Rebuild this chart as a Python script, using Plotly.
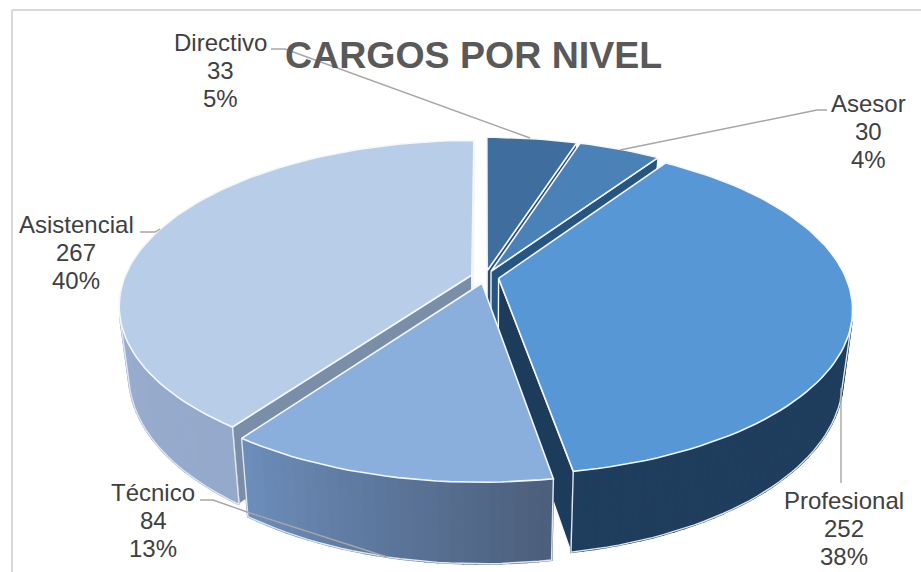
import numpy as np
import plotly.graph_objects as go

# ---- data ----
categories = ["Directivo", "Asesor", "Profesional", "Técnico", "Asistencial"]
values = [33, 30, 252, 84, 267]
percent_labels = [5, 4, 38, 13, 40]
title_text = "CARGOS POR NIVEL"

# ---- styling ----
top_colors = ["#3f6e9e", "#4a82b8", "#5797d6", "#8aafdc", "#b8cde7"]
side_from = ["#2f5478", "#2f5f8a", "#1f3f60", "#4c5f7c", "#94a9cb"]
side_to = ["#2f5478", "#2f5f8a", "#1f3d5c", "#6c8dba", "#a5b8d5"]
radial_colors = ["#2b4e72", "#265582", "#1d3c5c", "#55708f", "#7b8ea8"]
draw_order = [0, 1, 4, 2, 3]
label_pos = [(220, 70), (868, 131), (844, 528), (153, 520), (76, 252)]
LINE_STEP = 28
leaders = [
    [(271, 49), (285, 49), (530, 138)],
    [(827, 110), (817, 110), (620, 150)],
    [(841, 483), (841, 388)],
    [(200, 500), (213, 500), (250, 513), (387, 557)],
    [(140, 232), (155, 232), (160, 229)],
]
CX, CY, A, B, P, H, EXPLODE, TAPER = 485.0, 277.0, 347.0, 160.0, 0.183, 66.0, 0.04, 0.026


def project(X, Y, z=0.0):
    s = 1.0 / (1.0 + P * Y)
    return CX + A * X * s * (1 - TAPER * z), CY - B * Y * s + H * z * s


def hex_mix(c1, c2, t):
    a = [int(c1[i:i + 2], 16) for i in (1, 3, 5)]
    b = [int(c2[i:i + 2], 16) for i in (1, 3, 5)]
    return "rgb(%d,%d,%d)" % tuple(round(u + (v - u) * t) for u, v in zip(a, b))


def area(xs, ys):
    return 0.5 * sum(xs[i] * ys[(i + 1) % len(xs)] - xs[(i + 1) % len(xs)] * ys[i] for i in range(len(xs)))


def poly(fig, xs, ys, fill, line=None, width=1.0):
    fig.add_trace(go.Scatter(
        x=list(xs), y=list(ys), mode="lines", fill="toself", fillcolor=fill,
        line=dict(color=line or fill, width=width), hoverinfo="skip", showlegend=False))


def stroke(fig, xs, ys, color, width=1.0):
    fig.add_trace(go.Scatter(
        x=list(xs), y=list(ys), mode="lines", line=dict(color=color, width=width),
        hoverinfo="skip", showlegend=False))


fig = go.Figure()
total = sum(values)
edges = np.concatenate([[0.0], np.cumsum(values)]) / total * 2 * np.pi

for i in draw_order:
    t0, t1 = edges[i], edges[i + 1]
    mid = 0.5 * (t0 + t1)
    ox, oy = EXPLODE * np.sin(mid), EXPLODE * np.cos(mid)
    n = max(8, int((t1 - t0) / 0.03))
    th = np.linspace(t0, t1, n + 1)
    rx, ry = ox + np.sin(th), oy + np.cos(th)

    ax0, ay0 = project(ox, oy, 0)
    ax1, ay1 = project(ox, oy, 1)

    # radial faces, kept only when they face the viewer
    for k, sign in ((0, 1), (-1, -1)):
        qx0, qy0 = project(rx[k], ry[k], 0)
        qx1, qy1 = project(rx[k], ry[k], 1)
        xs, ys = [ax0, qx0, qx1, ax1], [ay0, qy0, qy1, ay1]
        if sign * area(xs, ys) < 0:
            poly(fig, xs + [ax0], ys + [ay0], radial_colors[i], "#f2f5f9", 1.4)

    # outer wall, built from strips for the gradient
    tx, ty = project(rx, ry, 0)
    bx, by = project(rx, ry, 1)
    vis = []
    for j in range(n):
        xs = [tx[j], tx[j + 1], bx[j + 1], bx[j]]
        ys = [ty[j], ty[j + 1], by[j + 1], by[j]]
        if area(xs, ys) < 0:
            c = hex_mix(side_from[i], side_to[i], j / max(1, n - 1))
            poly(fig, xs + [xs[0]], ys + [ys[0]], c, c, 2.0)
            vis.append(j)
    if vis:
        j0, j1 = vis[0], vis[-1] + 1
        stroke(fig, [tx[j0]] + list(bx[j0:j1 + 1]) + [tx[j1]],
               [ty[j0]] + list(by[j0:j1 + 1]) + [ty[j1]], "#dfe6ef", 1.4)

    # top face
    poly(fig, [ax0] + list(tx) + [ax0], [ay0] + list(ty) + [ay0], top_colors[i], "#f4f7fb", 1.6)

for pts in leaders:
    stroke(fig, [p[0] for p in pts], [p[1] for p in pts], "#a6a6a6", 1.4)

annotations = []
for c, v, p, (x, y) in zip(categories, values, percent_labels, label_pos):
    for row, text in enumerate((c, str(v), f"{p}%")):
        annotations.append(dict(
            x=x, y=y + (row - 1) * LINE_STEP, xref="x", yref="y", text=text, showarrow=False,
            font=dict(family="Liberation Sans", size=24, color="#404040")))
annotations.append(dict(x=473, y=55, xref="x", yref="y", text=f"<b>{title_text}</b>", showarrow=False,
                        font=dict(family="Liberation Sans", size=37.5, color="#595959")))

fig.update_layout(
    width=921, height=572, margin=dict(l=0, r=0, t=0, b=0),
    paper_bgcolor="white", plot_bgcolor="white", showlegend=False,
    xaxis=dict(range=[0, 921], visible=False, fixedrange=True),
    yaxis=dict(range=[572, 0], visible=False, fixedrange=True),
    annotations=annotations,
    shapes=[
        dict(type="line", x0=12, x1=12, y0=10, y1=572, line=dict(color="#d9d9d9", width=2)),
        dict(type="line", x0=12, x1=921, y0=10, y1=10, line=dict(color="#d9d9d9", width=2)),
    ],
)
fig.write_html("out.html", config={"displayModeBar": False},
               post_script="document.body.style.margin='0';document.body.style.overflow='hidden';")
